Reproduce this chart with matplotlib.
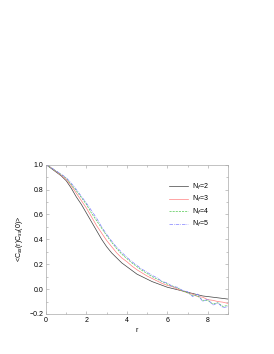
import matplotlib
matplotlib.use("Agg")
import matplotlib.pyplot as plt
from matplotlib.ticker import MultipleLocator

plt.rcParams['font.family'] = ['Liberation Sans', 'DejaVu Sans']

r = [0.0, 0.25, 0.5, 0.75, 1.0, 1.25, 1.5, 1.75, 2.0, 2.25, 2.5, 2.75, 3.0,
     3.25, 3.5, 3.75, 4.0, 4.25, 4.5, 4.75, 5.0, 5.25, 5.5, 5.75, 6.0, 6.25,
     6.5, 6.75, 7.0, 7.25, 7.5, 7.75, 8.0, 8.25, 8.5, 8.75, 9.0]

nf2 = [1.0, 0.97, 0.94, 0.91, 0.87, 0.81, 0.74, 0.68, 0.61, 0.54, 0.47, 0.40,
       0.34, 0.29, 0.25, 0.21, 0.18, 0.15, 0.12, 0.10, 0.08, 0.06, 0.045, 0.03,
       0.015, 0.005, -0.005, -0.015, -0.025, -0.035, -0.045, -0.055, -0.06,
       -0.065, -0.07, -0.075, -0.08]
nf3 = [1.0, 0.975, 0.945, 0.915, 0.88, 0.83, 0.77, 0.71, 0.65, 0.58, 0.51, 0.45,
       0.39, 0.34, 0.29, 0.25, 0.22, 0.185, 0.155, 0.13, 0.105, 0.085, 0.065,
       0.045, 0.03, 0.02, 0.0, -0.015, -0.03, -0.04, -0.06, -0.065, -0.085,
       -0.09, -0.10, -0.105, -0.115]
nf4 = [1.0, 0.975, 0.948, 0.92, 0.89, 0.84, 0.79, 0.735, 0.68, 0.61, 0.55, 0.49,
       0.43, 0.375, 0.325, 0.28, 0.245, 0.21, 0.18, 0.15, 0.125, 0.10, 0.08,
       0.06, 0.04, 0.025, 0.01, -0.015, -0.03, -0.05, -0.055, -0.09, -0.09,
       -0.12, -0.11, -0.14, -0.13]
nf5 = [1.0, 0.976, 0.95, 0.922, 0.895, 0.85, 0.80, 0.745, 0.69, 0.63, 0.57, 0.50,
       0.44, 0.385, 0.335, 0.295, 0.255, 0.22, 0.19, 0.16, 0.135, 0.11, 0.09,
       0.06, 0.05, 0.02, 0.015, -0.01, -0.02, -0.06, -0.04, -0.10, -0.08,
       -0.13, -0.11, -0.15, -0.14]

labels = ["N$_f$=2", "N$_f$=3", "N$_f$=4", "N$_f$=5"]

fig = plt.figure(figsize=(2.74, 3.54), dpi=100)
ax = fig.add_axes([0.168, 0.113, 0.664, 0.422])

ax.plot(r, nf2, color="#404040", lw=0.5, label=labels[0])
ax.plot(r, nf3, color="#ff8080", lw=0.5, label=labels[1])
ax.plot(r, nf4, color="#50c850", lw=0.5, ls=(0, (3, 1.5)), label=labels[2])
ax.plot(r, nf5, color="#8080ff", lw=0.5, ls=(0, (5, 1.5, 1, 1.5)), label=labels[3])

ax.set_xlim(0, 9)
ax.set_ylim(-0.2, 1.0)
ax.xaxis.set_major_locator(MultipleLocator(2))
ax.xaxis.set_minor_locator(MultipleLocator(1))
ax.yaxis.set_major_locator(MultipleLocator(0.2))
ax.yaxis.set_minor_locator(MultipleLocator(0.1))
ax.tick_params(which="both", direction="in", top=True, right=True,
               labelsize=5, color="#999999", width=0.4, pad=2)
ax.tick_params(which="major", length=2.5)
ax.tick_params(which="minor", length=1.5)
for s in ax.spines.values():
    s.set_color("#aaaaaa")
    s.set_linewidth(0.5)

ax.set_xlabel("r", fontsize=5, labelpad=2)
ax.set_ylabel("<C$_{ss}$(r)C$_{ss}$(0)>", fontsize=5, labelpad=3)

ax.legend(loc="upper right", bbox_to_anchor=(0.93, 0.93), frameon=False,
          fontsize=5, handlelength=2.8, labelspacing=0.35, handletextpad=0.6)

fig.savefig("out.png", dpi=100)
